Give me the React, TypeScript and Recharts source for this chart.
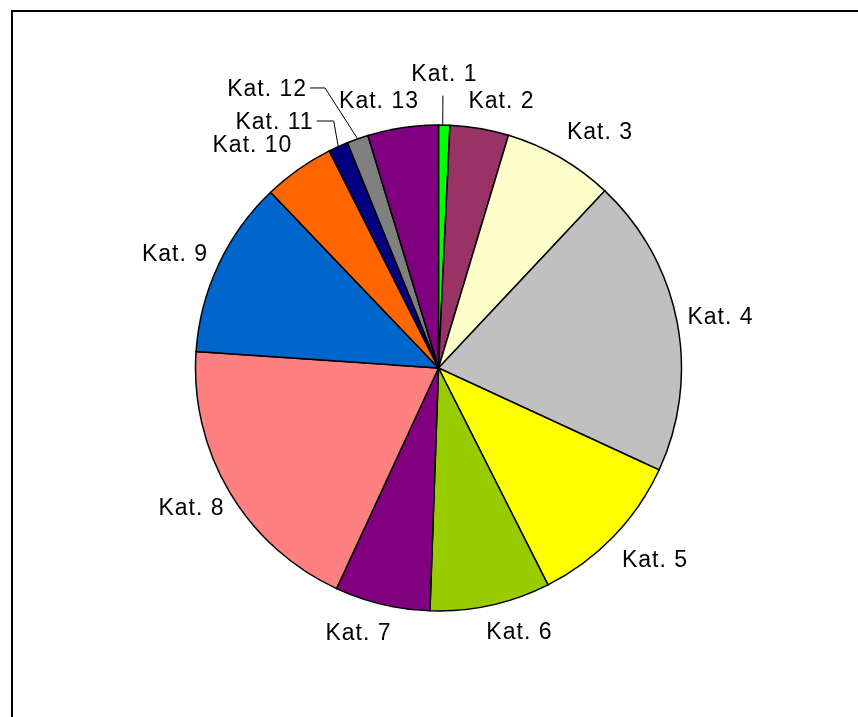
import React from 'react';
import { PieChart, Pie, Cell } from 'recharts';

const categories = ['Kat. 1', 'Kat. 2', 'Kat. 3', 'Kat. 4', 'Kat. 5', 'Kat. 6', 'Kat. 7', 'Kat. 8', 'Kat. 9', 'Kat. 10', 'Kat. 11', 'Kat. 12', 'Kat. 13'];
const values = [7.5, 39.0, 73.5, 198.9, 106.7, 80.0, 63.3, 191.9, 117.8, 47.2, 13.1, 14.2, 46.9];
const colors = ['#00FF00', '#993366', '#FFFFCC', '#C0C0C0', '#FFFF00', '#99CC00', '#800080', '#FF8080', '#0066CC', '#FF6600', '#000080', '#808080', '#800080'];

const data = categories.map((name, i) => ({ name, value: values[i] }));

// label placement: angular shift (deg, clockwise) and radius from the pie centre
const labelShift = [
  { dA: -0.2, r: 295.4, leader: 'below' },
  { dA: 3.5, r: 275.3 },
  { dA: 4.35, r: 286.4 },
  { dA: 0.55, r: 286.8 },
  { dA: -2.65, r: 288.4 },
  { dA: -4.75, r: 274.7 },
  { dA: 3.46, r: 275.9 },
  { dA: 1.28, r: 283.4 },
  { dA: -1.52, r: 287.5 },
  { dA: -4.5, r: 291.2 },
  { dA: -1.9, r: 275.4, leader: 'side', elbow: 17 },
  { dA: -5.2, r: 308.1, leader: 'side', elbow: 15 },
  { dA: -4.07, r: 274.5 },
];

const RAD = Math.PI / 180;
const FONT = '"Liberation Sans", Arial, sans-serif';

const renderLabel = (props: any) => {
  const { cx, cy, midAngle, outerRadius, index, name } = props;
  const s = labelShift[index];
  const mid = 90 - midAngle;
  const th = (mid + s.dA) * RAD;
  const x = cx + s.r * Math.sin(th);
  const y = cy - s.r * Math.cos(th);
  const ex = cx + outerRadius * Math.sin(mid * RAD);
  const ey = cy - outerRadius * Math.cos(mid * RAD);
  const textStyle = { fontFamily: FONT, fontSize: 23, letterSpacing: 1 } as any;
  if (s.leader === 'side') {
    return (
      <g key={`l${index}`}>
        <text x={x - 3} y={y} textAnchor="end" dominantBaseline="central" fill="#000" style={textStyle}>
          {name}
        </text>
        <polyline points={`${x},${y} ${x + s.elbow},${y} ${ex},${ey}`} fill="none" stroke="#000" strokeWidth={1} />
      </g>
    );
  }
  return (
    <g key={`l${index}`}>
      <text x={x} y={y} textAnchor="middle" dominantBaseline="central" fill="#000" style={textStyle}>
        {name}
      </text>
      {s.leader === 'below' ? (
        <line x1={x - 1.5} y1={y + 23} x2={ex - 1.5} y2={ey} stroke="#000" strokeWidth={1} />
      ) : null}
    </g>
  );
};

export default function App() {
  return (
    <div style={{ position: 'relative', width: 842, height: 700 }}>
      <div
        style={{
          position: 'fixed',
          left: 11,
          top: 10,
          width: 1000,
          height: 1000,
          borderLeft: '2px solid #000',
          borderTop: '2px solid #000',
          boxSizing: 'border-box',
        }}
      />
      <PieChart width={842} height={700} margin={{ top: 0, right: 0, bottom: 0, left: 0 }}>
        <Pie
          data={data}
          dataKey="value"
          nameKey="name"
          cx={430.5}
          cy={360}
          outerRadius={243}
          startAngle={90}
          endAngle={-270}
          stroke="#000"
          strokeWidth={1.5}
          label={renderLabel}
          labelLine={false}
          isAnimationActive={false}
        >
          {data.map((d, i) => (
            <Cell key={d.name} fill={colors[i]} />
          ))}
        </Pie>
      </PieChart>
    </div>
  );
}
